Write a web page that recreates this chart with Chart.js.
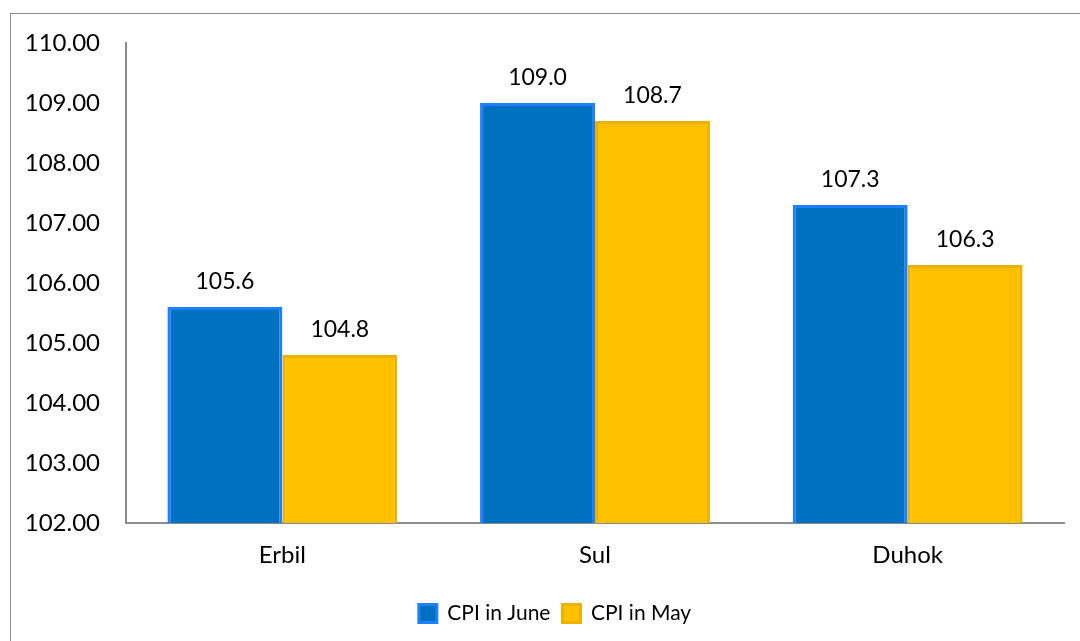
<!DOCTYPE html>
<html>
<head>
<meta charset="utf-8">
<script src="https://cdn.jsdelivr.net/npm/chart.js@4/dist/chart.umd.min.js"></script>
<style>
  body { margin: 0; background: #fff; overflow: hidden; }
  #wrap { position: relative; width: 1080px; height: 641px; overflow: hidden; }
  #frame { position: absolute; left: 10px; top: 13px; width: 1200px; height: 800px; border: 1.5px solid #8c8c8c; box-sizing: border-box; }
  canvas { position: absolute; left: 0; top: 0; }
</style>
</head>
<body>
<div id="wrap">
  <div id="frame"></div>
  <canvas id="grafico" width="1080" height="641"></canvas>
</div>
<script>
// dados do gráfico
var regioes = ['Erbil', 'Sul', 'Duhok'];
var cpiJunho = [105.6, 109.0, 107.3];
var cpiMaio = [104.8, 108.7, 106.3];
var eixoMin = 102;
var eixoMax = 110;

var fonte = 'Lato, "Open Sans", sans-serif';

// rótulos de valor acima das barras
var rotulosBarras = {
    id: 'rotulosBarras',
    afterLayout: function (chart) {
        // desloca a legenda para a direita (centrada como no original)
        chart.legend.left = 46;
    },
    afterDatasetsDraw: function (chart) {
        var ctx = chart.ctx;
        ctx.save();
        ctx.font = '23px ' + fonte;
        ctx.fillStyle = '#000';
        ctx.textAlign = 'center';
        ctx.textBaseline = 'middle';
        chart.data.datasets.forEach(function (ds, i) {
            chart.getDatasetMeta(i).data.forEach(function (bar, j) {
                ctx.fillText(ds.data[j].toFixed(1), bar.x, bar.y - 25);
            });
        });
        ctx.restore();
    }
};

var data = {
    labels: regioes,
    datasets: [{
        label: 'CPI in June',
        data: cpiJunho,
        backgroundColor: '#0070C0',
        borderColor: '#1F80FF',
        borderWidth: 3,
        categoryPercentage: 0.735,
        barPercentage: 1.0
    }, {
        label: 'CPI in May',
        data: cpiMaio,
        backgroundColor: '#FFC000',
        borderColor: '#EBB300',
        borderWidth: 3,
        categoryPercentage: 0.735,
        barPercentage: 1.0
    }]
};

var options = {
    responsive: false,
    animation: false,
    layout: { padding: { top: 43, right: 16, left: 0, bottom: 7 } },
    plugins: {
        tooltip: { enabled: false },
        legend: {
            position: 'bottom',
            labels: {
                font: { family: fonte, size: 21 },
                color: '#000',
                boxWidth: 18,
                boxHeight: 18,
                padding: 12
            }
        }
    },
    scales: {
        x: {
            afterFit: function (scale) { scale.height = 68; },
            grid: { display: false, drawTicks: false },
            border: { color: '#8c8c8c', width: 2 },
            ticks: { font: { family: fonte, size: 24 }, color: '#000', padding: 18 }
        },
        y: {
            min: eixoMin,
            max: eixoMax,
            afterFit: function (scale) { scale.width = 126; },
            grid: { display: false, drawTicks: false },
            border: { color: '#8c8c8c', width: 2 },
            ticks: {
                stepSize: 1,
                font: { family: fonte, size: 24 },
                color: '#000',
                padding: 26,
                callback: function (v) { return v.toFixed(2); }
            }
        }
    }
};

var ctx = document.getElementById('grafico').getContext('2d');
new Chart(ctx, {
    type: 'bar',
    data: data,
    options: options,
    plugins: [rotulosBarras]
});
</script>
</body>
</html>
